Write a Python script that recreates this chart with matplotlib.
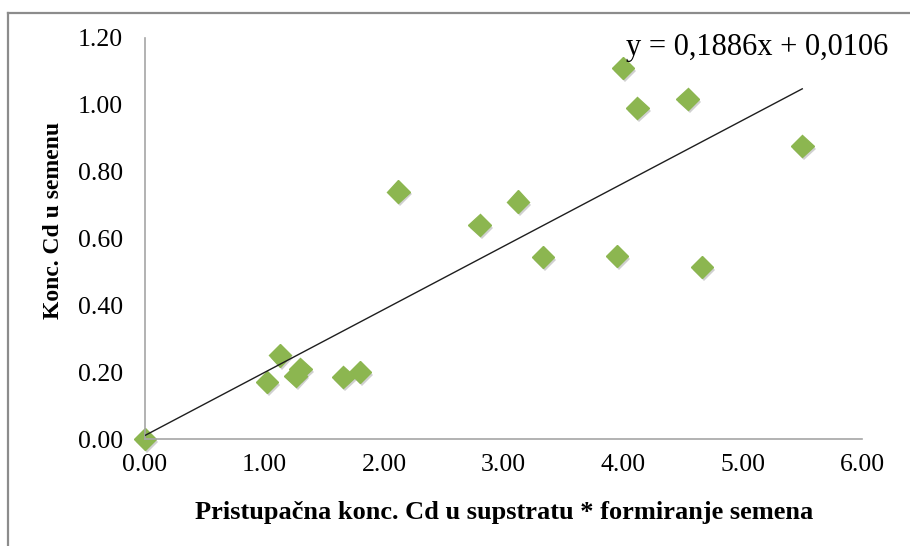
import numpy as np
import matplotlib
matplotlib.use("Agg")
import matplotlib.pyplot as plt
from matplotlib.lines import Line2D
import matplotlib.patheffects as pe

# pristupačna konc. Cd u supstratu * formiranje semena / konc. Cd u semenu
konc_supstrat = [0.00, 1.02, 1.13, 1.26, 1.30, 1.66, 1.80, 2.12, 2.80,
                 3.12, 3.33, 3.95, 4.00, 4.12, 4.54, 4.66, 5.50]
konc_seme = [0.00, 0.17, 0.25, 0.19, 0.21, 0.186, 0.20, 0.74, 0.64,
             0.71, 0.545, 0.548, 1.11, 0.99, 1.018, 0.515, 0.877]

# linearni trend
nagib = 0.1886
odsecak = 0.0106

x_ticks = [0, 1, 2, 3, 4, 5, 6]
y_ticks = [0.0, 0.2, 0.4, 0.6, 0.8, 1.0, 1.2]

serif = ["Liberation Serif", "DejaVu Serif"]
plt.rcParams["font.family"] = serif

fig = plt.figure(figsize=(9.1, 5.46), dpi=100)
ax = fig.add_axes([145 / 910, 1 - 439 / 546, 717 / 910, 401 / 546])

# linija trenda
xt = np.array([0, max(konc_supstrat)])
ax.plot(xt, nagib * xt + odsecak, color="#1e1e1e", lw=1.0, zorder=3)

senka = [pe.SimplePatchShadow(offset=(1.5, -2), shadow_rgbFace="#7a7a7a", alpha=0.35),
         pe.Normal()]
ax.plot(konc_supstrat, konc_seme, ls="none", marker="D", ms=11.5,
        mfc="#8cb650", mec="#8cb650", zorder=2, path_effects=senka, clip_on=False)

jednacina = "y = %s x + %s" % (str(nagib).replace(".", ","), str(odsecak).replace(".", ","))
jednacina = jednacina.replace(" x", "x")
ax.text((888 - 145) / 717, (439 - 47) / 401, jednacina,
        transform=ax.transAxes, ha="right", va="center", fontsize=22, zorder=4)

ax.set_xlim(0, 6)
ax.set_ylim(0, 1.2)
ax.set_xticks(x_ticks)
ax.set_yticks(y_ticks)
ax.set_xticklabels(["%.2f" % v for v in x_ticks])
ax.set_yticklabels(["%.2f" % v for v in y_ticks])
ax.tick_params(axis="x", length=0, pad=11, labelsize=18.5)
ax.tick_params(axis="y", length=0, pad=16, labelsize=18.5)

for s in ["top", "right"]:
    ax.spines[s].set_visible(False)
for s in ["left", "bottom"]:
    ax.spines[s].set_color("#a6a6a6")
    ax.spines[s].set_linewidth(1.2)

ax.set_xlabel("Pristupačna konc. Cd u supstratu * formiranje semena",
              fontsize=19, fontweight="bold")
ax.xaxis.set_label_coords((504 - 145) / 717, (439 - 513) / 401)
ax.xaxis.label.set_va("center")
ax.set_ylabel("Konc. Cd u semenu", fontsize=17, fontweight="bold")
ax.yaxis.set_label_coords((54 - 145) / 717, (439 - 220) / 401)
ax.yaxis.label.set_va("center")

# okvir grafikona
okvir = dict(color="#8c8c8c", lw=1.6, transform=fig.transFigure)
fig.add_artist(Line2D([8 / 910, 8 / 910], [0, 1 - 13 / 546], **okvir))
fig.add_artist(Line2D([8 / 910, 1], [1 - 13 / 546, 1 - 13 / 546], **okvir))

fig.savefig("out.png", dpi=100)
